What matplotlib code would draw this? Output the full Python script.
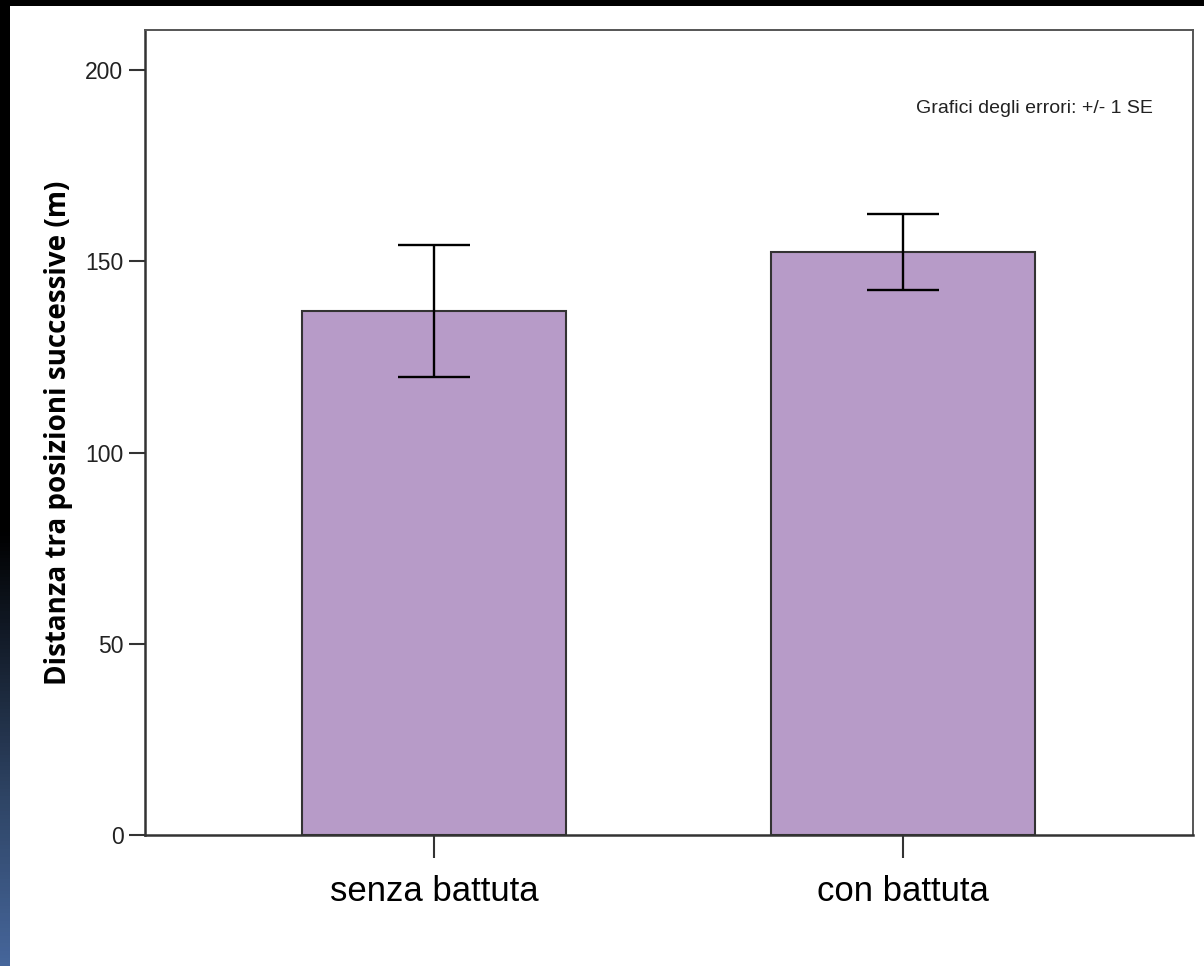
import numpy as np
import matplotlib
matplotlib.use("Agg")
import matplotlib.pyplot as plt
from matplotlib.colors import LinearSegmentedColormap

# distanza media tra posizioni successive, con errore standard
categorie = ["senza battuta", "con battuta"]
medie = [137.0, 152.4]
errori_se = [17.2, 10.0]
y_ticks = [0, 50, 100, 150, 200]

fig = plt.figure(figsize=(12.04, 9.66), dpi=100)
fig.patch.set_facecolor("white")

# cornice scura in alto e a sinistra
top_bar = fig.add_axes([0, 1 - 6 / 966, 1, 6 / 966])
top_bar.set_axis_off()
top_bar.add_patch(plt.Rectangle((0, 0), 1, 1, color="black", transform=top_bar.transAxes))

side_bar = fig.add_axes([0, 0, 10 / 1204, 1])
side_bar.set_axis_off()
side_cmap = LinearSegmentedColormap.from_list(
    "side", [(0.0, "#000000"), (0.55, "#000000"), (0.83, "#2f4566"), (1.0, "#46669b")])
grad = np.linspace(0, 1, 256).reshape(-1, 1)
side_bar.imshow(grad, cmap=side_cmap, aspect="auto", extent=[0, 1, 0, 1], origin="upper")
side_bar.set_xlim(0, 1)
side_bar.set_ylim(0, 1)

ax = fig.add_axes([145 / 1204, (966 - 835) / 966, 1048 / 1204, 805 / 966])
x = np.arange(len(categorie))
ax.bar(x, medie, width=0.563, color="#b79bc8", edgecolor="#333333", linewidth=1.5,
       yerr=errori_se, zorder=2,
       error_kw=dict(ecolor="black", elinewidth=1.7, capsize=26, capthick=1.7, zorder=3))

ax.set_xlim(-0.616, 1.618)
ax.set_ylim(0, 210.5)
ax.set_yticks(y_ticks)
ax.set_yticklabels([str(v) for v in y_ticks], family="Liberation Sans", fontsize=16.5, color="#222222")
ax.set_xticks(x)
ax.set_xticklabels(categorie, family="Liberation Sans", fontsize=25, color="black")
ax.tick_params(axis="y", direction="out", length=11.5, width=1.5, color="#333333", pad=4)
ax.tick_params(axis="x", direction="out", length=16.5, width=1.5, color="#333333", pad=12)

for side in ["left", "bottom"]:
    ax.spines[side].set_color("#333333")
    ax.spines[side].set_linewidth(1.8)
for side in ["top", "right"]:
    ax.spines[side].set_color("#555555")
    ax.spines[side].set_linewidth(1.4)

ax.set_ylabel("Distanza tra posizioni successive (m)", family=["Open Sans", "DejaVu Sans"],
              fontweight="bold", fontsize=20, labelpad=9)

ax.text(0.962, 0.903, "Grafici degli errori: +/- 1 SE", transform=ax.transAxes,
        ha="right", va="center", family="Liberation Sans", fontsize=14, color="#222222")

fig.savefig("out.png", dpi=100, facecolor=fig.get_facecolor())
